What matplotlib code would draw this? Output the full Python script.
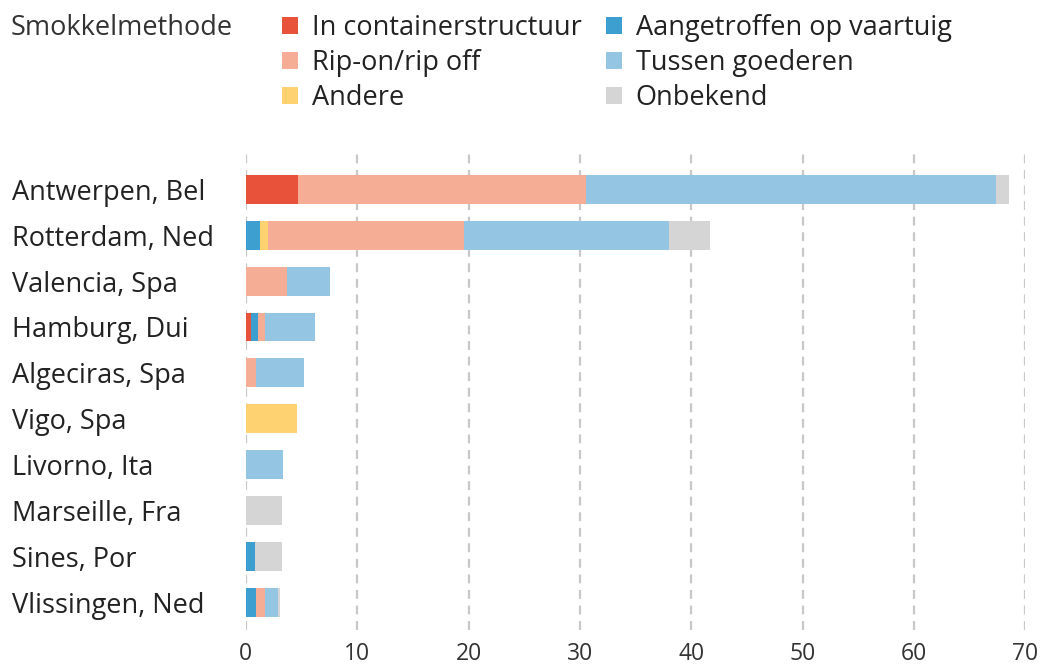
import matplotlib
matplotlib.use("Agg")
import matplotlib.pyplot as plt
from matplotlib.patches import Patch
import numpy as np

plt.rcParams['font.family'] = ['Open Sans', 'DejaVu Sans']

ports = ["Antwerpen, Bel", "Rotterdam, Ned", "Valencia, Spa", "Hamburg, Dui",
         "Algeciras, Spa", "Vigo, Spa", "Livorno, Ita", "Marseille, Fra",
         "Sines, Por", "Vlissingen, Ned"]

# stacking order: container, vaartuig, andere, rip-on, tussen goederen, onbekend
container = [4.7, 0.0, 0.0, 0.5, 0.0, 0.0, 0.0, 0.0, 0.0, 0.0]
vaartuig  = [0.0, 1.3, 0.0, 0.6, 0.0, 0.0, 0.0, 0.0, 0.8, 0.9]
andere    = [0.0, 0.7, 0.0, 0.0, 0.0, 4.6, 0.0, 0.0, 0.0, 0.0]
ripon     = [25.8, 17.6, 3.65, 0.65, 0.95, 0.0, 0.0, 0.0, 0.0, 0.8]
tussen    = [36.9, 18.4, 3.9, 4.45, 4.25, 0.0, 3.35, 0.0, 0.0, 1.2]
onbekend  = [1.1, 3.7, 0.0, 0.0, 0.0, 0.0, 0.0, 3.25, 2.45, 0.2]

xticks = [0, 10, 20, 30, 40, 50, 60, 70]

series = [
    ("In containerstructuur", container, "#e8513a"),
    ("Aangetroffen op vaartuig", vaartuig, "#3d9fcf"),
    ("Andere", andere, "#fed271"),
    ("Rip-on/rip off", ripon, "#f5ad95"),
    ("Tussen goederen", tussen, "#94c5e2"),
    ("Onbekend", onbekend, "#d5d5d5"),
]

fig = plt.figure(figsize=(10.42, 6.70), dpi=100)
ax = fig.add_axes([0.236, 0.06, 0.748, 0.719])

y = np.arange(len(ports))
left = np.zeros(len(ports))
colors = {}
for name, vals, col in series:
    vals = np.array(vals)
    ax.barh(y, vals, left=left, color=col, height=0.63, zorder=3)
    left += vals
    colors[name] = col

ax.set_xlim(0, 70)
ax.set_ylim(len(ports) - 0.5 + 0.1, -0.5 - 0.4)
ax.set_yticks(y)
ax.set_yticklabels(ports, fontsize=19.5, color="#222222")
ax.set_xticks(xticks)
ax.set_xticklabels([str(t) for t in xticks], fontsize=16.5, color="#333333")
ax.tick_params(axis='both', length=0)
ax.tick_params(axis='x', pad=9)
for s in ax.spines.values():
    s.set_visible(False)
ax.grid(axis='x', color="#c8c8c8", linestyle=(0, (4, 3)), linewidth=1.6, zorder=0)
ax.grid(axis='y', visible=False)
for lab in ax.get_yticklabels():
    lab.set_horizontalalignment('left')
ax.yaxis.set_tick_params(pad=(246 - 12) * 72 / 100)

fig.text(0.01, 0.958, "Smokkelmethode", fontsize=19.5, color="#333333", va='center')

order = ["In containerstructuur", "Rip-on/rip off", "Andere",
         "Aangetroffen op vaartuig", "Tussen goederen", "Onbekend"]
handles = [Patch(facecolor=colors[n], edgecolor='none') for n in order]
fig.legend(handles, order, loc='upper left', bbox_to_anchor=(0.247, 1.016),
           ncol=2, frameon=False, fontsize=19.5, handlelength=0.6, handleheight=0.6,
           handletextpad=0.5, columnspacing=0.9, labelspacing=0.27,
           labelcolor="#222222")

fig.savefig("out.png", dpi=100)
